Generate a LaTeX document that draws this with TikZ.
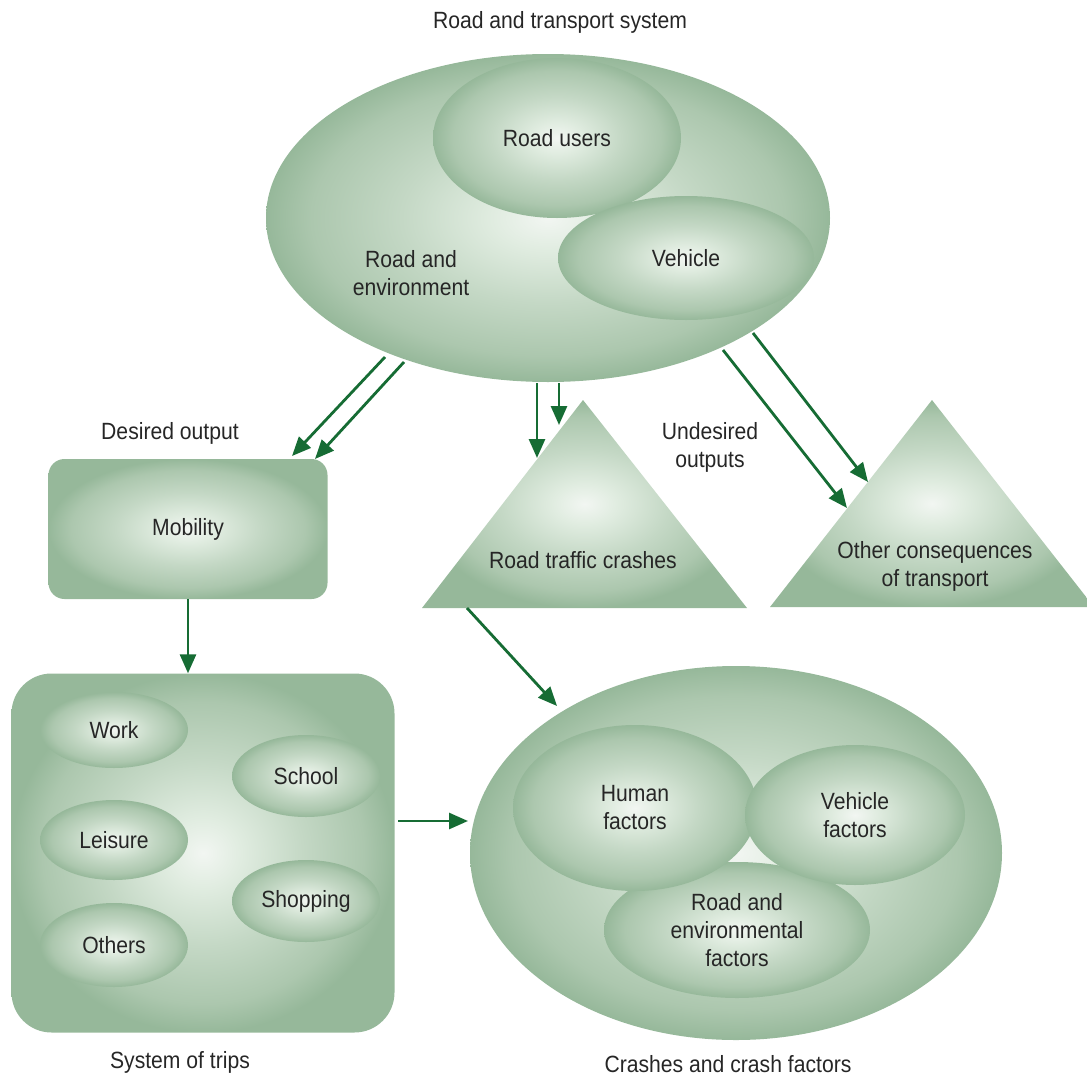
\documentclass[tikz,border=0pt]{standalone}
\usepackage{fontspec}
\setmainfont[FakeStretch=0.9]{Liberation Sans}
\usetikzlibrary{shapes.geometric,arrows.meta}

\definecolor{glowin}{RGB}{242,246,242}
\definecolor{glowsoft}{RGB}{224,236,224}
\definecolor{glowmid}{RGB}{196,216,197}
\definecolor{glowout}{RGB}{172,199,174}
\definecolor{glowedge}{RGB}{150,184,154}
\definecolor{arrowgreen}{RGB}{22,108,52}
\definecolor{inktext}{RGB}{38,38,38}

\pgfdeclareradialshading{greenglow}{\pgfpoint{0bp}{0bp}}{color(0bp)=(glowin); color(5bp)=(glowsoft); color(13bp)=(glowmid); color(21bp)=(glowout); color(25bp)=(glowedge); color(50bp)=(glowedge)}

\begin{document}
\begin{tikzpicture}[x=1pt,y=-1pt,
	font=\fontsize{23.5pt}{28pt}\selectfont, text=inktext,
	blob/.style={shape=ellipse,shade,shading=greenglow,inner sep=0pt,align=center},
	box/.style={shape=rectangle,shade,shading=greenglow,inner sep=0pt,align=center},
	flow/.style={draw=arrowgreen,line width=2.8pt,-{Triangle[length=19pt,width=16pt]}}]

	\useasboundingbox (0,0) rectangle (1087,1076);

	% road and transport system
	\node[align=center] (systitle) at (560,22) {Road and transport system};
	\node[blob,minimum width=564pt,minimum height=328pt] (sys) at (548,218) {};
	\node[blob,minimum width=248pt,minimum height=160pt] (users) at (557,138) {Road users};
	\node[blob,minimum width=256pt,minimum height=124pt] (vehicle) at (686,258) {Vehicle};
	\node[align=center] (roadenv) at (411,273) {Road and\\environment};

	% outputs
	\node (desired) at (170,433) {Desired output};
	\node[box,rounded corners=16pt,minimum width=279pt,minimum height=140pt] (mob) at (188,529) {Mobility};
	\node[align=center] (undesired) at (710,447) {Undesired\\outputs};

	\shade[shading=greenglow] (422,608) -- (583,400) -- (747,608) -- cycle;
	\node (rtc) at (583,560) {Road traffic crashes};
	\shade[shading=greenglow] (770,607) -- (932,400) -- (1094,607) -- cycle;
	\node[align=center] (othercons) at (935,566) {Other consequences\\of transport};

	% system of trips
	\node[box,rounded corners=40pt,minimum width=383pt,minimum height=359pt] (trips) at (203,853) {};
	\node[blob,minimum width=148pt,minimum height=76pt] (work) at (114,730) {Work};
	\node[blob,minimum width=148pt,minimum height=82pt] (school) at (306,776) {School};
	\node[blob,minimum width=148pt,minimum height=80pt] (leisure) at (114,840) {Leisure};
	\node[blob,minimum width=148pt,minimum height=82pt] (shopping) at (306,901) {Shopping};
	\node[blob,minimum width=148pt,minimum height=84pt] (others) at (114,945) {Others};
	\node (tripstitle) at (180,1062) {System of trips};

	% crashes and crash factors
	\node[blob,minimum width=532pt,minimum height=374pt] (crash) at (736,853) {};
	\node[blob,minimum width=266pt,minimum height=136pt] (renv) at (737,930) {Road and\\environmental\\factors};
	\node[blob,minimum width=244pt,minimum height=166pt] (human) at (635,808) {Human\\factors};
	\node[blob,minimum width=220pt,minimum height=140pt] (vfac) at (855,815) {Vehicle\\factors};
	\node (crashtitle) at (728,1064) {Crashes and crash factors};

	% arrow ends
	\coordinate (ma) at (385,357);
	\coordinate (mb) at (404,362);
	\coordinate (ra) at (537,383);
	\coordinate (rb) at (559,383);
	\coordinate (oa) at (723,350);
	\coordinate (ob) at (753,333);
	\coordinate (ma') at (292,456);
	\coordinate (mb') at (315,459);
	\coordinate (ra') at (537,458);
	\coordinate (rb') at (559,425);
	\coordinate (oa') at (847,508);
	\coordinate (ob') at (868,482);
	\coordinate (rtcout) at (467,608);
	\coordinate (crashin) at (557,706);
	\coordinate (tripsout) at (398,821);
	\coordinate (crashleft) at (468,821);

	\path (ma) edge[flow] (ma');
	\path (mb) edge[flow] (mb');
	\path (ra) edge[flow] (ra');
	\path (rb) edge[flow] (rb');
	\path (oa) edge[flow] (oa');
	\path (ob) edge[flow] (ob');
	\path (mob.south) edge[flow] (mob.south |- trips.north);
	\path (rtcout) edge[flow] (crashin);
	\path (tripsout) edge[flow] (crashleft);
\end{tikzpicture}
\end{document}
